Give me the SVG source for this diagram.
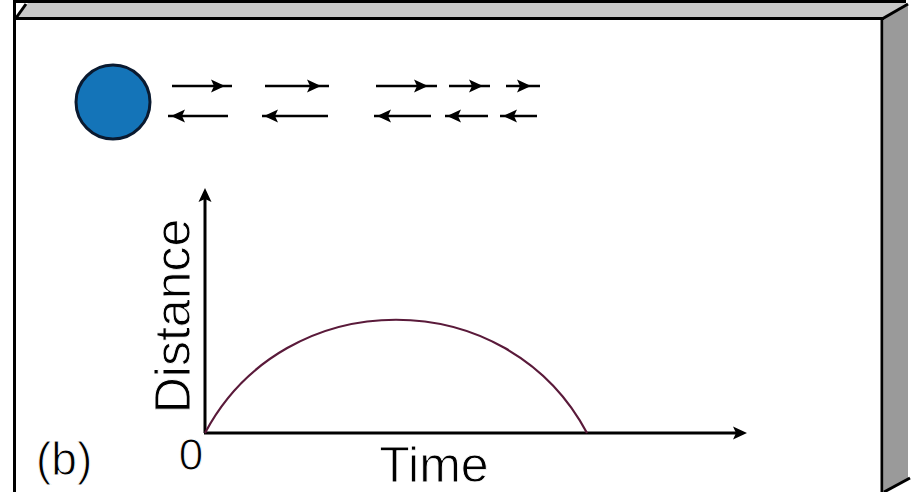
<svg xmlns="http://www.w3.org/2000/svg" width="913" height="492" viewBox="0 0 913 492">
<style>
.edge{stroke:#000;fill:none;stroke-width:3}
.ax{stroke:#000;stroke-width:3;fill:none}
.ar{stroke:#000;stroke-width:2.5;fill:none}
.lbl{font-family:"Liberation Sans",Arial,sans-serif;fill:#000;stroke:#fff;stroke-width:0.9}
</style>
<defs>
<path id="hr" d="M0,0 L-14,-6.5 L-11,0 L-14,6.5 Z" fill="#000"/>
<path id="hl" d="M0,0 L14,-6.5 L11,0 L14,6.5 Z" fill="#000"/>
</defs>
<rect width="913" height="492" fill="#fff"/>
<g id="frame">
<polygon points="16,18 28,3 906,3 884,18" fill="#c8c8c8"/>
<polygon points="884,18 908,4 908,478 884,492" fill="#9a9a9a"/>
<line class="edge" x1="13" y1="1.5" x2="906" y2="1.5"/>
<line class="edge" x1="14.5" y1="0" x2="14.5" y2="492"/>
<line class="edge" x1="13" y1="18.5" x2="884" y2="18.5"/>
<line class="edge" x1="882" y1="17" x2="882" y2="492" stroke-width="3.5"/>
<line class="edge" x1="882" y1="19" x2="908" y2="4"/>
<line class="edge" x1="884" y1="492" x2="910" y2="478"/>
<line class="edge" x1="16" y1="18" x2="26" y2="4" stroke-width="2"/>
</g>
<g id="ball">
<circle cx="113" cy="102" r="37" fill="#1474b8" stroke="#0a1a30" stroke-width="3"/>
</g>
<g id="velocity-arrows">
<line class="ar" x1="172" y1="86" x2="232" y2="86"/><use href="#hr" x="225" y="86"/>
<line class="ar" x1="265" y1="86" x2="329" y2="86"/><use href="#hr" x="321" y="86"/>
<line class="ar" x1="376" y1="86" x2="437" y2="86"/><use href="#hr" x="428" y="86"/>
<line class="ar" x1="449" y1="86" x2="490" y2="86"/><use href="#hr" x="483" y="86"/>
<line class="ar" x1="506" y1="86" x2="540" y2="86"/><use href="#hr" x="531" y="86"/>
<line class="ar" x1="168" y1="116" x2="228" y2="116"/><use href="#hl" x="171" y="116"/>
<line class="ar" x1="262" y1="116" x2="328" y2="116"/><use href="#hl" x="264" y="116"/>
<line class="ar" x1="374" y1="116" x2="431" y2="116"/><use href="#hl" x="377" y="116"/>
<line class="ar" x1="445" y1="116" x2="488" y2="116"/><use href="#hl" x="447" y="116"/>
<line class="ar" x1="500" y1="116" x2="537" y2="116"/><use href="#hl" x="503" y="116"/>
</g>
<g id="axes">
<line class="ax" x1="205" y1="433" x2="205" y2="192"/>
<use href="#hr" transform="translate(205,188) rotate(-90)"/>
<line class="ax" x1="204" y1="433" x2="742" y2="433"/>
<use href="#hr" x="747" y="433"/>
</g>
<g id="curve">
<path d="M205,433 C285,282 507,282 587,433" fill="none" stroke="#5a1a3a" stroke-width="2.2"/>
</g>
<g id="labels">
<text class="lbl" font-size="50" text-anchor="middle" transform="translate(190,316) rotate(-90)">Distance</text>
<text class="lbl" font-size="50" x="434" y="482" text-anchor="middle">Time</text>
<text class="lbl" font-size="44" x="191" y="470" text-anchor="middle">0</text>
<text class="lbl" font-size="46" x="36" y="475">(b)</text>
</g>
</svg>
